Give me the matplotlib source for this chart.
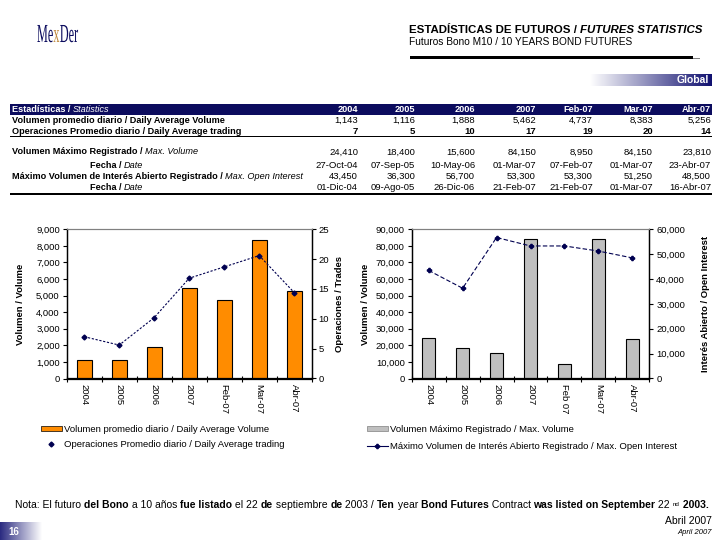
import numpy as np
import matplotlib
matplotlib.use("Agg")
import matplotlib.pyplot as plt
import matplotlib.transforms as mtransforms
from matplotlib.ticker import FuncFormatter
from matplotlib.patches import Patch, Rectangle, PathPatch
from matplotlib.lines import Line2D
from matplotlib.textpath import TextPath
from matplotlib.font_manager import FontProperties

plt.rcParams['font.family'] = ['Liberation Sans Narrow', 'Liberation Sans', 'DejaVu Sans']

# ---------------- data ----------------
periods = ['2004', '2005', '2006', '2007', 'Feb-07', 'Mar-07', 'Abr-07']
chart_labels_left = ['2004', '2005', '2006', '2007', 'Feb-07', 'Mar-07', 'Abr-07']
chart_labels_right = ['2004', '2005', '2006', '2007', 'Feb 07', 'Mar-07', 'Abr-07']
avg_volume = [1143, 1116, 1888, 5462, 4737, 8383, 5256]
avg_trades_table = [7, 5, 10, 17, 19, 20, 14]
avg_trades_chart = [7.0, 5.6, 10.2, 16.8, 18.7, 20.6, 14.4]
max_volume = [24410, 18400, 15600, 84150, 8950, 84150, 23810]
max_vol_date = ['27-Oct-04', '07-Sep-05', '10-May-06', '01-Mar-07', '07-Feb-07', '01-Mar-07', '23-Abr-07']
max_oi = [43450, 36300, 56700, 53300, 53300, 51250, 48500]
max_oi_date = ['01-Dic-04', '09-Ago-05', '26-Dic-06', '21-Feb-07', '21-Feb-07', '01-Mar-07', '16-Abr-07']

NAVY = '#0c0c5e'
ORANGE = '#FF8C00'
GRAY = '#BFBFBF'
LINEC = '#000050'

W, H = 720, 540
fig = plt.figure(figsize=(7.2, 5.4), dpi=100)
fig.patch.set_facecolor('white')
renderer = fig.canvas.get_renderer()


def fx(x):
    return x / W


def fy(y):
    return 1 - y / H


def seq_text(x, y, pieces, size, ha='left', va='center', color='k'):
    """Draw pieces [(text, props)] one after the other starting at pixel x."""
    arts = []
    widths = []
    for txt, props in pieces:
        kw = dict(fontsize=size, va=va, ha='left', color=color)
        kw.update(props)
        t = fig.text(0, fy(y), txt, **kw)
        bb = t.get_window_extent(renderer)
        widths.append(bb.width)
        arts.append(t)
    total = sum(widths)
    if ha == 'center':
        start = x - total / 2
    elif ha == 'right':
        start = x - total
    else:
        start = x
    cur = start
    for t, w in zip(arts, widths):
        t.set_x(fx(cur))
        cur += w
    return arts


def gradient_box(x0, y0, x1, y1, c_left, c_right):
    ax = fig.add_axes([fx(x0), fy(y1), (x1 - x0) / W, (y1 - y0) / H])
    cl = np.array(matplotlib.colors.to_rgb(c_left))
    cr = np.array(matplotlib.colors.to_rgb(c_right))
    t = np.linspace(0, 1, 200)[None, :, None]
    img = cl[None, None, :] * (1 - t) + cr[None, None, :] * t
    ax.imshow(img, aspect='auto', extent=[0, 1, 0, 1])
    ax.set_axis_off()
    return ax


# ---------------- header: logo ----------------
logo_fp = FontProperties(family='Liberation Serif')
logo_x, logo_base = 37, 42   # pixels (top-left origin)
sx, em = 0.47, 26
cur = logo_x
for piece, col in (('Me', NAVY), ('x', '#C08A3E'), ('Der', NAVY)):
    tp = TextPath((0, 0), piece, size=em, prop=logo_fp)
    ext = tp.get_extents()
    tr = mtransforms.Affine2D().scale(sx, 1).translate(cur, H - logo_base)
    fig.add_artist(PathPatch(tp, transform=tr, color=col, lw=0))
    cur += ext.x1 * sx + 0.5

seq_text(409, 30, [('ESTADÍSTICAS DE FUTUROS / ', dict(weight='bold')),
                   ('FUTURES STATISTICS', dict(weight='bold', style='italic'))], 8.25)
fig.text(fx(409), fy(42), 'Futuros Bono M10 / 10 YEARS BOND FUTURES', fontsize=7.3, va='center')
fig.add_artist(Rectangle((fx(410), fy(59)), (693 - 410) / W, 2.5 / H, transform=fig.transFigure,
                         color='black', lw=0))
fig.add_artist(Rectangle((fx(693), fy(59)), 7 / W, 1.5 / H, transform=fig.transFigure,
                         color='#808080', lw=0))

gradient_box(590, 74, 712, 86, '#ffffff', '#101070')
fig.text(fx(709), fy(80), 'Global', fontsize=7.5, color='white', weight='bold', ha='right', va='center')

# ---------------- table ----------------
fig.add_artist(Rectangle((fx(10), fy(114.5)), (712 - 10) / W, 10.5 / H, transform=fig.transFigure,
                         color=NAVY, lw=0))
TS = 6.6
seq_text(12, 109.5, [('Estadísticas / ', dict(weight='bold')),
                     ('Statistics', dict(style='italic'))], TS, color='white')
col_right = [358, 415, 475, 536, 593, 653, 711]
for xr, p in zip(col_right, periods):
    fig.text(fx(xr), fy(109.5), p, fontsize=TS, color='white', weight='bold', ha='right', va='center')


def hline(y, lw_px):
    fig.add_artist(Rectangle((fx(10), fy(y + lw_px / 2)), (712 - 10) / W, lw_px / H,
                             transform=fig.transFigure, color='black', lw=0))


rows_y = {'r1': 120.5, 'r2': 131, 'r3': 152, 'r4': 165, 'r5': 176.5, 'r6': 188}
fig.text(fx(12), fy(rows_y['r1']), 'Volumen promedio diario / Daily Average Volume', fontsize=TS,
         weight='bold', va='center')
fig.text(fx(12), fy(rows_y['r2']), 'Operaciones Promedio diario / Daily Average trading', fontsize=TS,
         weight='bold', va='center')
seq_text(12, rows_y['r3'], [('Volumen Máximo Registrado / ', dict(weight='bold')),
                            ('Max. Volume', dict(style='italic'))], TS)
seq_text(90, rows_y['r4'], [('Fecha / ', dict(weight='bold')), ('Date', dict(style='italic'))], TS)
seq_text(12, rows_y['r5'], [('Máximo Volumen de Interés Abierto Registrado / ', dict(weight='bold')),
                            ('Max. Open Interest', dict(style='italic'))], TS)
seq_text(90, rows_y['r6'], [('Fecha / ', dict(weight='bold')), ('Date', dict(style='italic'))], TS)

NS = 6.8
for i, xr in enumerate(col_right):
    fig.text(fx(xr), fy(rows_y['r1']), f'{avg_volume[i]:,}', fontsize=NS, ha='right', va='center')
    fig.text(fx(xr), fy(rows_y['r2']), f'{avg_trades_table[i]}', fontsize=NS, weight='bold', ha='right', va='center')
    fig.text(fx(xr), fy(rows_y['r3']), f'{max_volume[i]:,}', fontsize=NS, ha='right', va='center')
    fig.text(fx(xr), fy(rows_y['r4']), max_vol_date[i], fontsize=NS, ha='right', va='center')
    fig.text(fx(xr), fy(rows_y['r5']), f'{max_oi[i]:,}', fontsize=NS, ha='right', va='center')
    fig.text(fx(xr), fy(rows_y['r6']), max_oi_date[i], fontsize=NS, ha='right', va='center')

hline(126, 0.8)
hline(136.5, 1.5)
hline(194, 1.5)

# ---------------- charts ----------------
comma = FuncFormatter(lambda v, p: f'{int(v):,}')
x = np.arange(len(periods))


def style_axes(ax, axr, labels):
    ax.set_xlim(-0.5, len(labels) - 0.5)
    ax.set_xticks(x)
    ax.set_xticklabels(labels, rotation=270, fontsize=6.8, va='top', ha='center')
    ax.set_xticks(np.arange(-0.5, len(labels)), minor=True)
    ax.tick_params(axis='x', which='major', length=0, pad=4)
    ax.tick_params(axis='x', which='minor', length=4, direction='inout', width=0.8)
    ax.tick_params(axis='y', labelsize=6.8, length=3, width=0.8, direction='out', pad=2)
    axr.tick_params(axis='y', labelsize=6.8, length=3, width=0.8, direction='out', pad=2)
    for a in (ax, axr):
        a.spines['top'].set_color('#808080')
        a.spines['top'].set_linewidth(0.8)
        for s in ('left', 'right', 'bottom'):
            a.spines[s].set_linewidth(0.9)


# left chart
ax1 = fig.add_axes([fx(66.7), fy(378.5), (311.7 - 66.7) / W, (378.5 - 229.3) / H])
ax1.bar(x, avg_volume, width=0.42, color=ORANGE, edgecolor='black', linewidth=0.8)
ax1.set_ylim(0, 9000)
ax1.set_yticks(np.arange(0, 9001, 1000))
ax1.yaxis.set_major_formatter(comma)
ax1b = ax1.twinx()
ax1b.plot(x, avg_trades_chart, color=LINEC, lw=0.8, ls=(0, (2, 1.5)), marker='D', ms=2.5)
ax1b.set_ylim(0, 25)
ax1b.set_yticks(np.arange(0, 26, 5))
style_axes(ax1, ax1b, chart_labels_left)

# right chart
ax2 = fig.add_axes([fx(411.7), fy(378.5), (649.3 - 411.7) / W, (378.5 - 229.3) / H])
ax2.bar(x, max_volume, width=0.38, color=GRAY, edgecolor='black', linewidth=0.8)
ax2.set_ylim(0, 90000)
ax2.set_yticks(np.arange(0, 90001, 10000))
ax2.yaxis.set_major_formatter(comma)
ax2b = ax2.twinx()
ax2b.plot(x, max_oi, color=LINEC, lw=0.8, ls=(0, (4, 2)), marker='P', ms=3)
ax2b.set_ylim(0, 60000)
ax2b.set_yticks(np.arange(0, 60001, 10000))
ax2b.yaxis.set_major_formatter(comma)
style_axes(ax2, ax2b, chart_labels_right)

# axis titles
fig.text(fx(21), fy(304), 'Volumen / Volume', rotation=90, fontsize=6.8, weight='bold', ha='center', va='center')
fig.text(fx(340), fy(304), 'Operaciones / Trades', rotation=90, fontsize=6.8, weight='bold', ha='center', va='center')
fig.text(fx(366), fy(304), 'Volumen / Volume', rotation=90, fontsize=6.8, weight='bold', ha='center', va='center')
fig.text(fx(706), fy(304), 'Interés Abierto / Open Interest', rotation=90, fontsize=6.8, weight='bold',
         ha='center', va='center')

# legends
h1 = [Patch(facecolor=ORANGE, edgecolor='black', lw=0.5),
      Line2D([], [], color=LINEC, ls='none', marker='D', ms=2.5)]
l1 = ['Volumen promedio diario / Daily Average Volume', 'Operaciones Promedio diario / Daily Average trading']
fig.legend(h1, l1, loc='upper left', bbox_to_anchor=(fx(36), fy(420)), frameon=False, fontsize=6.8,
           handlelength=2.2, handleheight=0.5, handletextpad=0.3, labelspacing=0.7, borderpad=0)
h2 = [Patch(facecolor=GRAY, edgecolor='#808080', lw=0.5),
      Line2D([], [], color=LINEC, lw=0.8, marker='P', ms=3)]
l2 = ['Volumen Máximo Registrado / Max. Volume', 'Máximo Volumen de Interés Abierto Registrado / Max. Open Interest']
fig.legend(h2, l2, loc='upper left', bbox_to_anchor=(fx(362), fy(420)), frameon=False, fontsize=6.8,
           handlelength=2.2, handleheight=0.5, handletextpad=0.3, labelspacing=0.9, borderpad=0)

# ---------------- footer ----------------
seq_text(362, 505, [('Nota: El futuro ', {}), ('del Bono', dict(weight='bold')), (' a 10 años ', {}),
                    ('fue listado', dict(weight='bold')), (' el 22 ', {}), ('de', dict(weight='bold')),
                    (' septiembre ', {}), ('de', dict(weight='bold')), (' 2003 / ', {}),
                    ('Ten', dict(weight='bold')), (' year ', {}), ('Bond Futures', dict(weight='bold')),
                    (' Contract ', {}), ('was listed on September', dict(weight='bold')), (' 22 ', {}),
                    ('nd', dict(fontsize=4.5)), (' 2003.', dict(weight='bold'))], 7.5, ha='center')

gradient_box(0, 522, 42, 540, '#2a2a80', '#ffffff')
fig.text(fx(8), fy(532), '16', fontsize=7, color='white', weight='bold', va='center')
fig.text(fx(712), fy(521), 'Abril 2007', fontsize=7.5, ha='right', va='center')
fig.text(fx(712), fy(533), 'April 2007', fontsize=5.5, style='italic', ha='right', va='center')

fig.savefig('out.png', dpi=100)
